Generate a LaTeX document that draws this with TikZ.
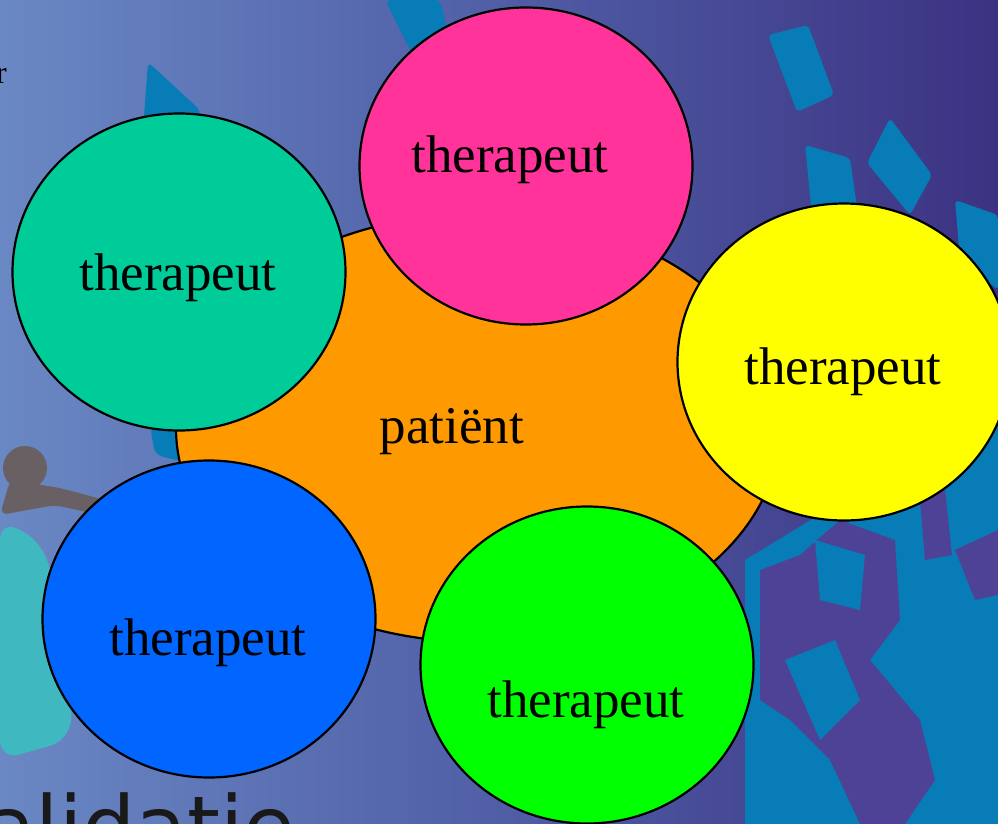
\documentclass[tikz,border=0pt]{standalone}
\usepackage{fontspec}
\setmainfont{Liberation Serif}
\newfontfamily\titlefont{DejaVu Sans}
\usepackage{xcolor}
\usepackage{tikz}
\usetikzlibrary{shapes.geometric}
\definecolor{bgleft}{RGB}{106,136,196}
\definecolor{bgmid}{RGB}{80,94,166}
\definecolor{bgright}{RGB}{60,50,130}
\definecolor{decoblue}{RGB}{8,124,182}
\definecolor{decopurple}{RGB}{78,66,150}
\definecolor{decoteal}{RGB}{64,184,192}
\definecolor{decobrown}{RGB}{104,96,98}
\definecolor{patientcolor}{RGB}{255,153,0}
\definecolor{tealcolor}{RGB}{0,204,153}
\definecolor{pinkcolor}{RGB}{255,51,153}
\definecolor{yellowcolor}{RGB}{255,255,0}
\definecolor{bluecolor}{RGB}{0,102,255}
\definecolor{greencolor}{RGB}{0,255,0}
\tikzset{therapistnode/.style={shape=ellipse,draw=black,line width=2.2pt,inner sep=0pt,minimum width=333pt,minimum height=317pt}}
\tikzset{wordnode/.style={inner sep=0pt,font=\fontsize{53}{60}\selectfont}}

\begin{document}
\begin{tikzpicture}[x=1pt,y=-1pt]
		\useasboundingbox (0,0) rectangle (998,824);
		\clip (0,0) rectangle (998,824);
		% slide background
		\shade[left color=bgleft,right color=bgright,middle color=bgmid] (0,0) rectangle (998,824);
		\fill[decoblue,rounded corners=6pt] (148,62) -- (200,110) -- (205,170) -- (140,170) -- cycle;
		\fill[decoblue,rounded corners=6pt] (385,0) -- (440,0) -- (450,40) -- (420,70) -- cycle;
		\fill[decoblue,rounded corners=4pt] (768,35) -- (808,25) -- (834,95) -- (797,112) -- cycle;
		\fill[decoblue,rounded corners=4pt] (805,145) -- (850,158) -- (858,215) -- (812,215) -- cycle;
		\fill[decoblue,rounded corners=4pt] (890,118) -- (932,175) -- (910,215) -- (867,163) -- cycle;
		\fill[decoblue,rounded corners=4pt] (955,200) -- (998,215) -- (998,290) -- (960,260) -- cycle;
		\fill[decoblue,rounded corners=8pt] (150,425) -- (185,420) -- (185,462) -- (155,455) -- cycle;
		\fill[decoblue] (745,560) -- (860,490) -- (998,380) -- (998,824) -- (745,824) -- cycle;
		\fill[decopurple] (760,570) -- (800,555) -- (840,520) -- (895,540) -- (900,620) -- (870,660) -- (920,720) -- (935,780) -- (905,824) -- (860,824) -- (830,760) -- (790,720) -- (760,700) -- cycle;
		\fill[decoblue] (785,660) -- (835,640) -- (860,700) -- (820,740) -- cycle;
		\fill[decoblue] (815,540) -- (865,555) -- (860,610) -- (820,600) -- cycle;
		\fill[decopurple] (920,500) -- (945,490) -- (952,555) -- (925,560) -- cycle;
		\fill[decopurple] (955,550) -- (998,530) -- (998,595) -- (975,600) -- cycle;
		\fill[decoteal,rounded corners=20pt] (0,520) -- (40,540) -- (75,640) -- (70,740) -- (0,760) -- cycle;
		\fill[decobrown] (25,468) circle (22);
		\fill[decobrown,rounded corners=8pt] (10,480) -- (60,488) -- (105,500) -- (100,515) -- (55,505) -- (0,515) -- cycle;
		% slide texts
		\node[anchor=base east,inner sep=0pt,font=\fontsize{32}{36}\selectfont] (slidetop) at (7,84) {r};
		\node[anchor=base west,inner sep=0pt,text=black!90,font=\titlefont\fontsize{84}{90}\selectfont] (slidetitle) at (-16,856) {alidatie};
		%
		\node[shape=ellipse,draw=black,line width=2.2pt,fill=patientcolor,minimum width=604pt,minimum height=428pt] (patient) at (478,428) {};
		\node[therapistnode,fill=tealcolor] (teal) at (179,272) {};
		\node[therapistnode,fill=pinkcolor] (pink) at (526,166) {};
		\node[therapistnode,fill=yellowcolor] (yellow) at (844,362) {};
		\node[therapistnode,fill=bluecolor] (blue) at (209,619) {};
		\node[therapistnode,fill=greencolor] (green) at (587,665) {};
		%
		\node[wordnode] (patientword) at (452,432) {patiënt};
		\node[wordnode] (tealword) at (178,278) {therapeut};
		\node[wordnode] (pinkword) at (510,160) {therapeut};
		\node[wordnode] (yellowword) at (843,372) {therapeut};
		\node[wordnode] (blueword) at (208,643) {therapeut};
		\node[wordnode] (greenword) at (586,705) {therapeut};
	\end{tikzpicture}
\end{document}
